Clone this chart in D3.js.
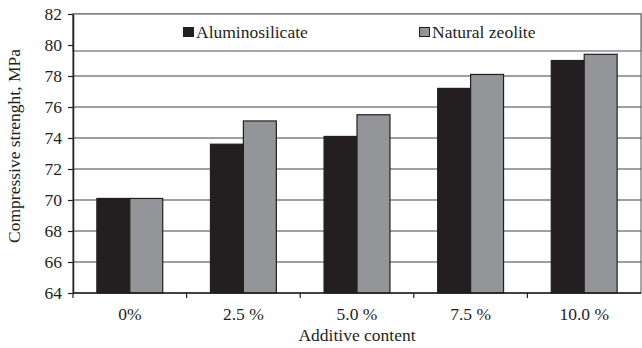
<!DOCTYPE html>
<html><head><meta charset="utf-8">
<script src="https://cdn.jsdelivr.net/npm/d3@7"></script>
<style>body{margin:0;background:#fff}svg{display:block}text{font-family:"Liberation Serif","Times New Roman",serif;fill:#231f20}</style>
</head><body><svg id="c" width="642" height="348"></svg>
<script>
const categories = ["0%", "2.5 %", "5.0 %", "7.5 %", "10.0 %"];
const seriesNames = ["Aluminosilicate", "Natural zeolite"];
const aluminosilicate = [70.1, 73.6, 74.1, 77.2, 79.0];
const naturalZeolite = [70.1, 75.1, 75.5, 78.1, 79.4];
const yTicks = [64, 66, 68, 70, 72, 74, 76, 78, 80, 82];
const colors = ["#231f20", "#939598"];

const FS = 17.5;
const svg = d3.select("#c");
const m = {l: 73, r: 1, t: 14, b: 55};
const W = 642, H = 348;
const x = d3.scaleBand().domain(categories).range([m.l, W - m.r]).paddingInner(0.42).paddingOuter(0.21);
const xOuter = d3.scaleBand().domain(categories).range([m.l, W - m.r]);
const x1 = d3.scaleBand().domain(seriesNames).range([0, x.bandwidth()]);
const y = d3.scaleLinear().domain([64, 82]).range([H - m.b, m.t]);

// frame top/right
svg.append("rect").attr("x", m.l).attr("y", m.t).attr("width", W - m.r - m.l).attr("height", H - m.b - m.t)
  .attr("fill", "none").attr("stroke", "#6d6e71").attr("stroke-width", 1.2);
// gridlines
svg.append("g").selectAll("line").data(yTicks.slice(1, -1)).join("line")
  .attr("x1", m.l).attr("x2", W - m.r).attr("y1", d => y(d)).attr("y2", d => y(d))
  .attr("stroke", "#414042").attr("stroke-width", 1.2);

// legend box
const legH = 37;
svg.append("rect").attr("x", m.l).attr("y", m.t).attr("width", W - m.r - m.l).attr("height", legH)
  .attr("fill", "#fff").attr("stroke", "#6d6e71").attr("stroke-width", 1.2);
const legX = [183.5, 419.5];
seriesNames.forEach((s, i) => {
  svg.append("rect").attr("x", legX[i]).attr("y", 27.5).attr("width", 10).attr("height", 9)
    .attr("fill", colors[i]).attr("stroke", "#231f20").attr("stroke-width", 1);
  svg.append("text").attr("x", legX[i] + 12.5).attr("y", 37.5).attr("font-size", FS).text(s);
});

// bars
const data = categories.map((c, i) => ({c, v: [aluminosilicate[i], naturalZeolite[i]]}));
const g = svg.append("g");
data.forEach(d => {
  seriesNames.forEach((s, j) => {
    g.append("rect").attr("x", x(d.c) + x1(s)).attr("y", y(d.v[j]))
      .attr("width", x1.bandwidth()).attr("height", y(64) - y(d.v[j]))
      .attr("fill", colors[j]).attr("stroke", "#231f20").attr("stroke-width", 1.2);
  });
});

// y axis
const ya = svg.append("g").attr("transform", `translate(${m.l},0)`)
  .call(d3.axisLeft(y).tickValues(yTicks).tickSize(5).tickSizeOuter(0).tickPadding(6));
ya.select(".domain").attr("stroke", "#231f20").attr("stroke-width", 1.5);
ya.selectAll(".tick line").attr("stroke", "#231f20").attr("stroke-width", 1.2);
ya.selectAll("text").attr("font-size", FS).attr("font-family", "Liberation Serif").attr("fill", "#231f20");

// x axis
const xa = svg.append("g").attr("transform", `translate(0,${H - m.b})`);
xa.append("line").attr("x1", m.l).attr("x2", W - m.r).attr("stroke", "#231f20").attr("stroke-width", 1.5);
xa.selectAll("line.t").data(categories).join("line").attr("class", "t")
  .attr("x1", d => xOuter(d)).attr("x2", d => xOuter(d)).attr("y1", 0).attr("y2", 5)
  .attr("stroke", "#231f20").attr("stroke-width", 1.2);
xa.selectAll("text").data(categories).join("text")
  .attr("x", d => xOuter(d) + xOuter.bandwidth() / 2).attr("y", 27)
  .attr("text-anchor", "middle").attr("font-size", FS).text(d => d);

svg.append("text").attr("x", (m.l + W - m.r) / 2).attr("y", 341).attr("text-anchor", "middle")
  .attr("font-size", FS).text("Additive content");
svg.append("text").attr("transform", `translate(20,146) rotate(-90)`)
  .attr("text-anchor", "middle").attr("font-size", FS).text("Compressive strenght, MPa");
</script></body></html>
